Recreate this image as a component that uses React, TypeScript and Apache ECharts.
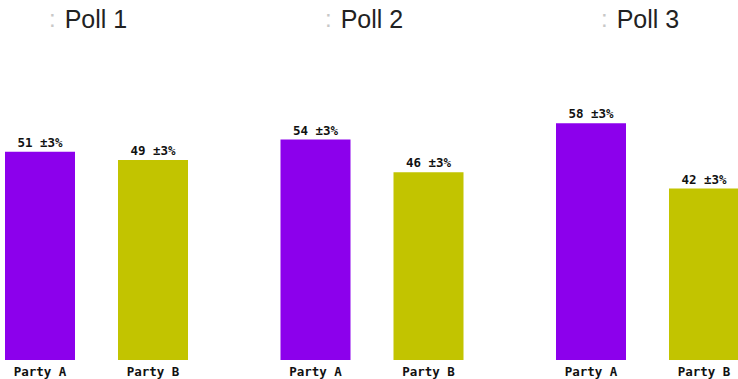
import React, { useEffect, useRef } from "react";
import * as echarts from "echarts";

const polls = ["Poll 1", "Poll 2", "Poll 3"];
const parties = ["Party A", "Party B"];
const partyA = [51, 54, 58];
const partyB = [49, 46, 42];
const marginOfError = 3;
const partyColors = ["#8c00ec", "#c2c400"];

export default function App() {
  const ref = useRef<HTMLDivElement>(null);
  useEffect(() => {
    if (!ref.current) return;
    const chart = echarts.init(ref.current, undefined, { renderer: "svg" });
    const panelLeft = (i: number) => -16.5 + i * 275.5;
    const grids = polls.map((_, i) => ({
      left: panelLeft(i),
      width: 226,
      top: 115,
      height: 245,
      containLabel: false,
      outerBoundsMode: "none",
    }));
    const xAxes = polls.map((_, i) => ({
      type: "category",
      gridIndex: i,
      data: parties,
      axisLine: { show: false },
      axisTick: { show: false },
      axisLabel: {
        margin: 5,
        fontFamily: "DejaVu Sans Mono",
        fontWeight: "bold",
        fontSize: 12.5,
        lineHeight: 13,
        color: "#111",
      },
    }));
    const yAxes = polls.map((_, i) => ({
      type: "value",
      gridIndex: i,
      min: 0,
      max: 60,
      show: false,
      splitLine: { show: false },
    }));
    const series = polls.map((_, i) => ({
      type: "bar",
      xAxisIndex: i,
      yAxisIndex: i,
      barWidth: 70,
      data: [partyA[i], partyB[i]].map((v, j) => ({
        value: v,
        itemStyle: { color: partyColors[j] },
      })),
      label: {
        show: true,
        position: "top",
        distance: 3,
        formatter: (p: any) => `${p.value} ±${marginOfError}%`,
        fontFamily: "DejaVu Sans Mono",
        fontWeight: "bold",
        fontSize: 12.5,
        color: "#111",
      },
    }));
    const titles = polls.map((p, i) => ({
      text: `{c|:}{p|${p}}`,
      left: 44 + i * 276,
      top: 1,
      textStyle: {
        rich: {
          c: { fontSize: 24, fontWeight: "normal", color: "#c8c8c8", fontFamily: "Liberation Sans", padding: [0, 9, 0, 0] },
          p: { fontSize: 25, fontWeight: "normal", color: "#222", fontFamily: "Liberation Sans" },
        },
      },
    }));
    chart.setOption({
      animation: false,
      title: titles,
      grid: grids,
      xAxis: xAxes,
      yAxis: yAxes,
      series,
    });
    return () => chart.dispose();
  }, []);
  return (
    <div
      ref={ref}
      style={{ position: "absolute", left: 0, top: 0, width: 738, height: 379, background: "#fff" }}
    />
  );
}
